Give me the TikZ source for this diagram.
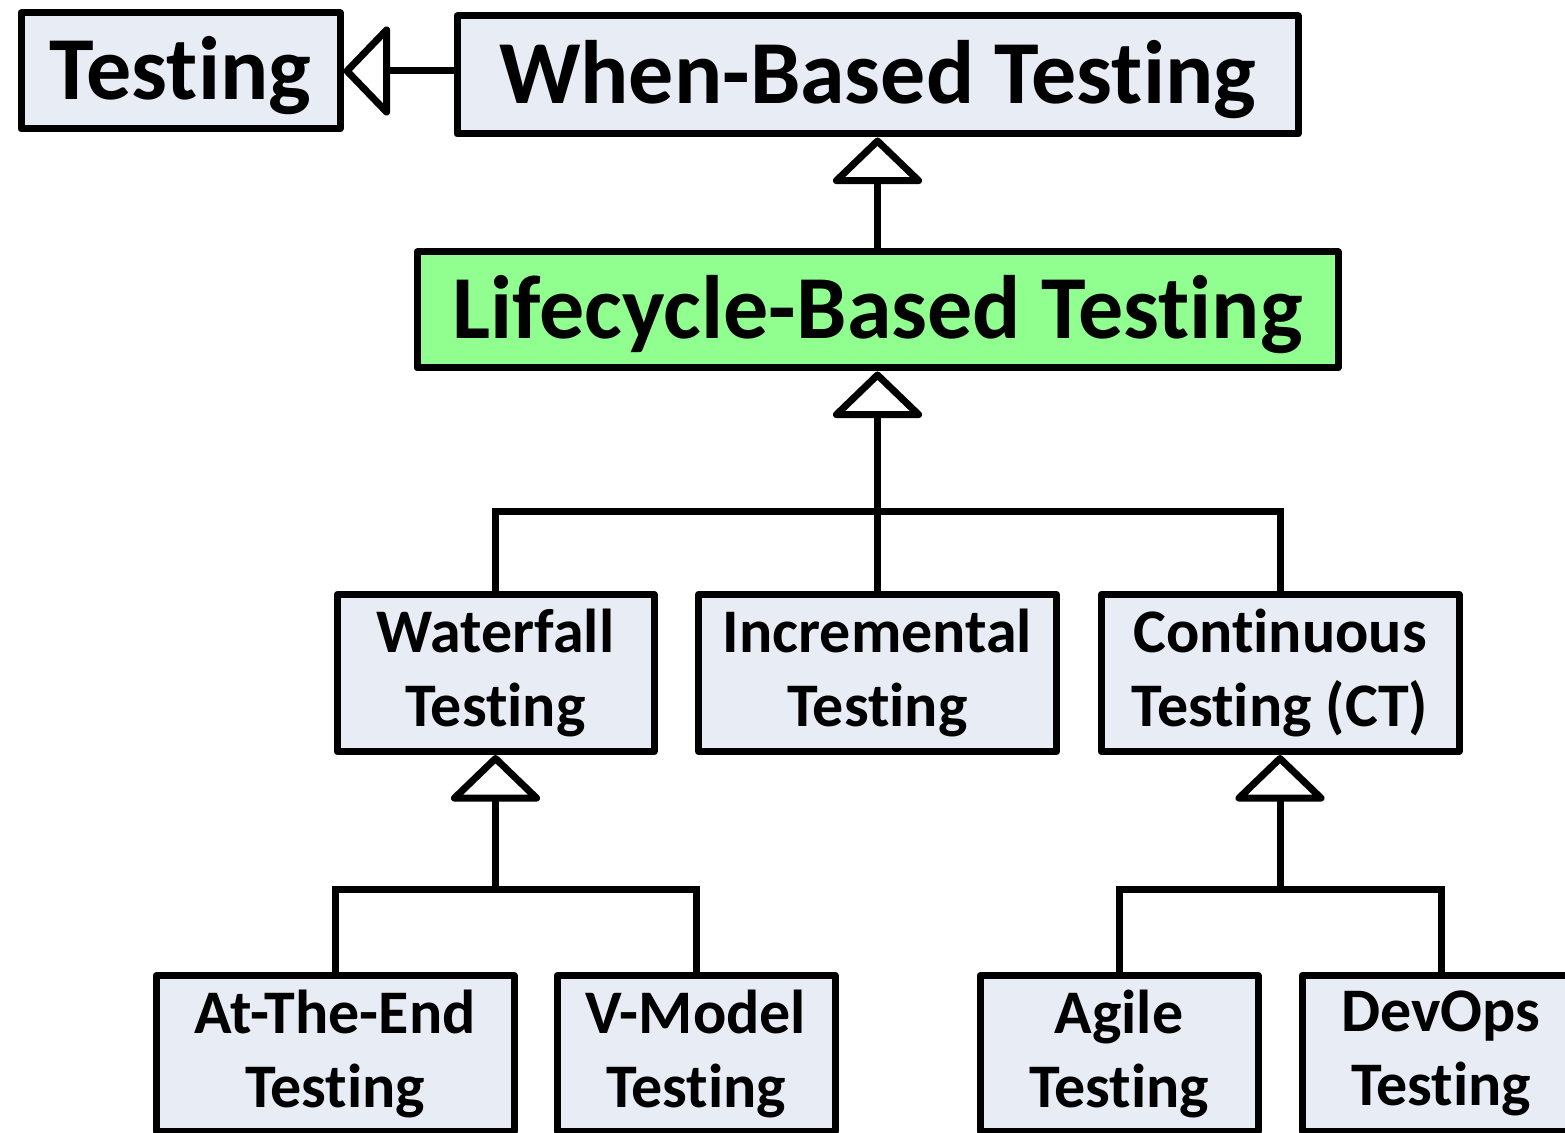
\documentclass[tikz,border=0pt]{standalone}
\usepackage{fontspec}
\setmainfont{Carlito}[Ligatures={NoCommon}, RawFeature={-liga}]
\usetikzlibrary{arrows.meta}
\definecolor{boxfill}{HTML}{E8EDF5}
\definecolor{greenfill}{HTML}{90FF90}
\tikzset{
  box/.style={draw=black, line width=3.5pt, fill=boxfill, line join=round, inner sep=0pt, font=\bfseries\fontsize{31}{37}\selectfont, align=center},
  bigbox/.style={box, font=\bfseries\fontsize{45}{50}\selectfont, text height=29pt, text depth=0pt},
  conn/.style={draw=black, line width=3.5pt},
  inh/.style={conn, -{Triangle[open, length=24pt, width=49pt, line join=round]}},
}
\begin{document}
\begin{tikzpicture}[x=0.5pt, y=-0.5pt]
\useasboundingbox (0,0) rectangle (1565,1133);
\node[bigbox, minimum width=159.5pt, minimum height=58pt] (testing) at (180.5,71) {Testing};
\node[bigbox, minimum width=420.5pt, minimum height=59pt] (whenb) at (877.5,75) {When-Based Testing};
\node[bigbox, fill=greenfill, minimum width=460.5pt, minimum height=58pt] (life) at (877.5,310) {Lifecycle-Based Testing};
\node[box, minimum width=158.5pt, minimum height=78.5pt] (wat) at (495.5,673) {Waterfall\\Testing};
\node[box, minimum width=179pt, minimum height=78.5pt] (incr) at (877.5,673) {Incremental\\Testing};
\node[box, minimum width=179pt, minimum height=78.5pt] (cont) at (1280,673) {Continuous\\Testing (CT)};
\node[box, minimum width=179pt, minimum height=78pt] (atend) at (335,1053.5) {At-The-End\\Testing};
\node[box, minimum width=139pt, minimum height=78pt] (vmod) at (696,1053.5) {V-Model\\Testing};
\node[box, minimum width=139pt, minimum height=78pt] (agile) at (1119,1053.5) {Agile\\Testing};
\node[box, minimum width=139pt, minimum height=78pt] (devops) at (1441,1053.5) {DevOps\\Testing};
\coordinate (bus1) at (877.5,512);
\coordinate (bus2) at (495.5,890);
\coordinate (bus3) at (1280,890);
\draw[inh] (whenb.west |- testing.east) -- (testing.east);
\draw[inh] (life.north) -- (whenb.south);
\draw[inh] (incr.north) -- (life.south);
\draw[conn] (wat.north) |- (bus1) -| (cont.north);
\draw[inh] (bus2) -- (wat.south);
\draw[conn] (atend.north) |- (bus2) -| (vmod.north);
\draw[inh] (bus3) -- (cont.south);
\draw[conn] (agile.north) |- (bus3) -| (devops.north);
\end{tikzpicture}
\end{document}
